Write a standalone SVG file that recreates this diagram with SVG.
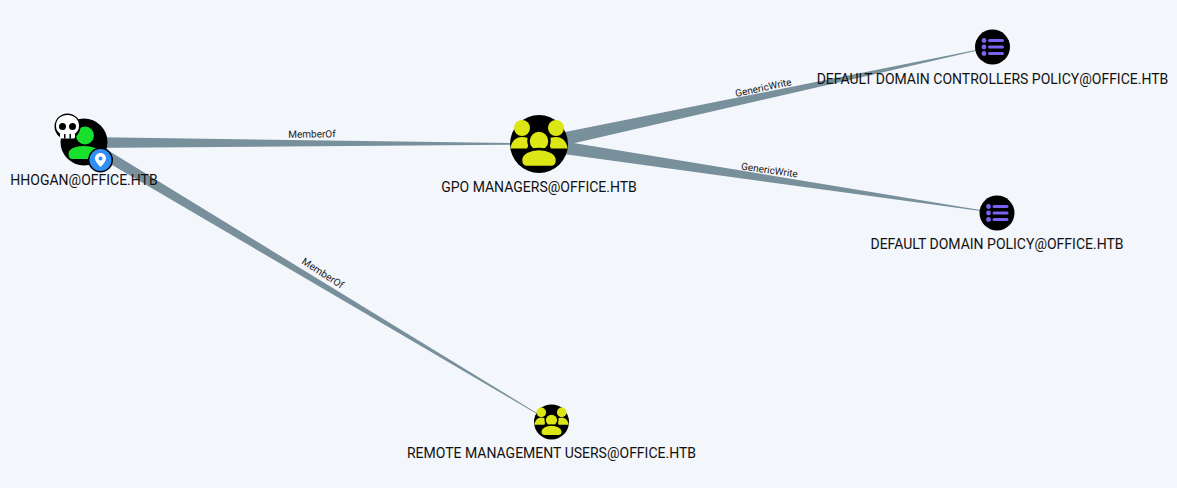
<svg xmlns="http://www.w3.org/2000/svg" width="1177" height="488" viewBox="0 0 1177 488">
<style>
.lbl{font-family:Roboto,"Liberation Sans",sans-serif;font-size:14px;fill:#111;text-anchor:middle}
.el{font-family:Roboto,"Liberation Sans",sans-serif;font-size:10px;fill:#222;text-anchor:middle}
.edge{fill:#78909c}
.y{fill:#dce614}
.k{stroke:#000;stroke-width:2.5}
.p{fill:#7a63f0}
</style>
<defs>
<g id="grp">
<circle r="8" cy="-16" cx="-17" class="y"/><circle r="8" cy="-16" cx="17" class="y"/>
<path class="y" d="M-28.500 4.500C-27.500-4-22-7-17-7C-13-7-10-6-8-4L-12 4.500Z"/>
<path class="y" d="M28.500 4.500C27.500-4 22-7 17-7C13-7 10-6 8-4L12 4.500Z"/>
<circle r="10.500" cy="-3" class="y k"/>
<path class="y k" d="M-18 16C-18 9-9 5 0 5S18 9 18 16C18 21 15 23 12 23H-12C-15 23-18 21-18 16Z"/>
</g>
<g id="list">
<circle cx="-8.500" cy="-6.500" r="2.400" class="p"/><circle cx="-8.500" cy="0" r="2.400" class="p"/><circle cx="-8.500" cy="6.500" r="2.400" class="p"/>
<rect x="-4.500" y="-8" width="16" height="3" rx="1.500" class="p"/><rect x="-4.500" y="-1.500" width="16" height="3" rx="1.500" class="p"/><rect x="-4.500" y="5" width="16" height="3" rx="1.500" class="p"/>
</g>
</defs>
<rect width="1177" height="488" fill="#f3f6fb"/>
<g id="connectors">
<polygon class="edge" points="84,137 84,148 539,144.500 539,143.500"/>
<polygon class="edge" points="87,137.500 81.500,147 551,422.300 551,421.700"/>
<polygon class="edge" points="537.500,137.500 540,151 992,47.300 992,46.700"/>
<polygon class="edge" points="540,137.500 538,150.500 997,213.300 997,212.700"/>
<text class="el" transform="translate(312,137.500) rotate(-0.500)">MemberOf</text>
<text class="el" transform="translate(321,276) rotate(33)">MemberOf</text>
<text class="el" transform="translate(764,91) rotate(-12)">GenericWrite</text>
<text class="el" transform="translate(769,173.500) rotate(8)">GenericWrite</text>
</g>
<g id="node-hhogan">
<circle cx="84" cy="142" r="23.500" fill="#000"/>
<circle cx="85" cy="135.500" r="9" fill="#19e02c"/>
<path d="M68.500 153C69 149 75 146 84 146S99 149 100 153C100 158 98 159 95 159H73C70 159 68.500 158 68.500 153Z" fill="#19e02c"/>
<circle cx="67.500" cy="126.500" r="13" fill="#000"/>
<path d="M67.500 115C60 115 56 120 56 126C56 130 58 132 60 133.500V137C60 138 61 138.500 62 138.500H73C74 138.500 75 138 75 137V133.500C77 132 79 130 79 126C79 120 75 115 67.500 115Z" fill="#fff"/>
<circle cx="62.500" cy="126.500" r="3.500" fill="#000"/><circle cx="72.500" cy="126.500" r="3.500" fill="#000"/>
<rect x="64" y="134" width="1.500" height="4.500" fill="#000"/><rect x="69.500" y="134" width="1.500" height="4.500" fill="#000"/>
<circle cx="100.500" cy="160" r="12.500" fill="#000"/>
<circle cx="100.500" cy="160" r="11" fill="#2f8ff5"/>
<path d="M100.500 153C97 153 95 155.500 95 158.500C95 162 100.500 167 100.500 167S106 162 106 158.500C106 155.500 104 153 100.500 153Z" fill="#fff"/>
<circle cx="100.500" cy="158.500" r="2" fill="#2f8ff5"/>
<text class="lbl" x="84" y="185">HHOGAN@OFFICE.HTB</text>
</g>
<g id="node-gpo">
<circle cx="539" cy="144" r="29" fill="#000"/>
<use href="#grp" transform="translate(539 144)"/>
<text class="lbl" x="539" y="192">GPO MANAGERS@OFFICE.HTB</text>
</g>
<g id="node-ddcp">
<circle cx="992.500" cy="47" r="17.500" fill="#000"/>
<use href="#list" transform="translate(992.500 47)"/>
<text class="lbl" x="992.500" y="84">DEFAULT DOMAIN CONTROLLERS POLICY@OFFICE.HTB</text>
</g>
<g id="node-ddp">
<circle cx="997" cy="213" r="17.500" fill="#000"/>
<use href="#list" transform="translate(997 213)"/>
<text class="lbl" x="997" y="249">DEFAULT DOMAIN POLICY@OFFICE.HTB</text>
</g>
<g id="node-rmu">
<circle cx="551.500" cy="422" r="17.500" fill="#000"/>
<use href="#grp" transform="translate(551.500 422) scale(0.6)"/>
<text class="lbl" x="551.500" y="458">REMOTE MANAGEMENT USERS@OFFICE.HTB</text>
</g>
</svg>
